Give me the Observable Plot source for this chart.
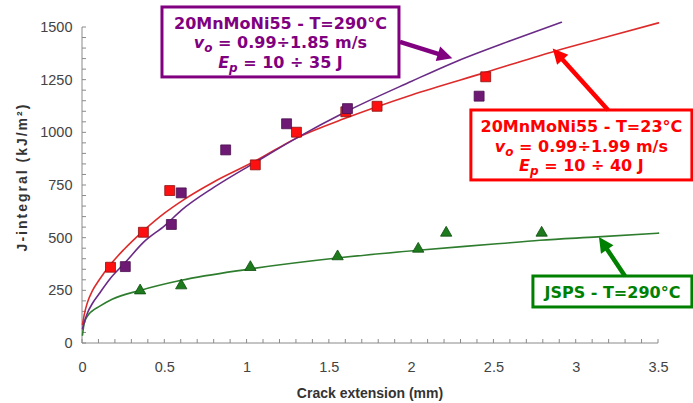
<!DOCTYPE html>
<html><head><meta charset="utf-8">
<script src="https://cdn.jsdelivr.net/npm/d3@7"></script>
<script src="https://cdn.jsdelivr.net/npm/@observablehq/plot@0.6"></script>
<style>body{margin:0;background:#fff}</style>
</head><body><div id="chart"></div>
<script>
// ---- measured data points (crack extension mm, J-integral kJ/m²) ----
const redX = [0.17, 0.37, 0.53, 1.05, 1.30, 1.60, 1.79, 2.45];
const redY = [362, 528, 726, 848, 1003, 1100, 1126, 1266];
const purpleX = [0.26, 0.54, 0.60, 0.87, 1.24, 1.61, 2.41];
const purpleY = [365, 565, 715, 919, 1043, 1115, 1174];
const greenX = [0.35, 0.60, 1.02, 1.55, 2.04, 2.21, 2.79];
const greenY = [251, 275, 362, 413, 449, 525, 525];

// ---- fitted curves ----
const redFitX = [0, 0.01, 0.03, 0.06, 0.1, 0.17, 0.25, 0.37, 0.5, 0.6, 0.8, 1.05, 1.3, 1.6, 2.0, 2.45, 2.85, 3.2, 3.5];
const redFitY = [90, 135, 195, 250, 300, 375, 445, 535, 620, 675, 768, 866, 975, 1070, 1180, 1287, 1383, 1458, 1522];
const purpleFitX = [0, 0.01, 0.03, 0.06, 0.1, 0.17, 0.26, 0.37, 0.5, 0.6, 0.8, 1.05, 1.3, 1.6, 2.0, 2.25, 2.6, 2.91];
const purpleFitY = [70, 100, 145, 190, 235, 310, 385, 480, 560, 632, 742, 860, 975, 1100, 1245, 1332, 1437, 1525];
const greenFitX = [0, 0.01, 0.03, 0.06, 0.1, 0.18, 0.35, 0.6, 1.0, 1.56, 2.04, 2.5, 2.78, 3.13, 3.5];
const greenFitY = [40, 95, 130, 155, 175, 210, 252, 300, 352, 407, 443, 472, 490, 506, 524];

// ---- ticks & labels ----
const xTicks = [0, 0.5, 1, 1.5, 2, 2.5, 3, 3.5];
const yTicks = [0, 250, 500, 750, 1000, 1250, 1500];
const xMinor = d3.range(0, 36).map(i => i / 10);
const yMinor = d3.range(0, 31).map(i => i * 50);
const xTitle = "Crack extension (mm)";
const yTitle = "J-integral (kJ/m²)";

const purpleLines = [[{t:"20MnMoNi55 - T=290°C"}], [{t:"v",i:1},{t:"o",i:1,s:1},{t:" = 0.99÷1.85 m/s"}], [{t:"E",i:1},{t:"p",i:1,s:1},{t:" = 10 ÷ 35 J"}]];
const redLines = [[{t:"20MnMoNi55 - T=23°C"}], [{t:"v",i:1},{t:"o",i:1,s:1},{t:" = 0.99÷1.99 m/s"}], [{t:"E",i:1},{t:"p",i:1,s:1},{t:" = 10 ÷ 40 J"}]];
const greenLines = [[{t:"JSPS - T=290°C"}]];

// annotation anchors in data units: box [x0, x1, yTop, yBottom], arrow [xFrom, yFrom, xTip, yTip]
const notes = [
  {lines: purpleLines, color: "#800080", box: [0.486, 1.926, 1595, 1263], arrow: [1.932, 1429, 2.25, 1352]},
  {lines: redLines, color: "#ff0000", box: [2.363, 3.706, 1106, 774], arrow: [3.196, 1106, 2.86, 1398]},
  {lines: greenLines, color: "#008000", box: [2.740, 3.706, 318, 171], arrow: [3.299, 318, 3.141, 503]}
];

const pts = (xs, ys) => xs.map((x, k) => ({x, y: ys[k]}));
const NS = "http://www.w3.org/2000/svg";

function axesMark(index, scales, values, dims, context) {
  const doc = (context && context.document) || document;
  const X = scales.x, Y = scales.y;
  const g = doc.createElementNS(NS, "g");
  g.setAttribute("stroke", "#8a8a8a");
  g.setAttribute("stroke-width", "1");
  const line = (x1, y1, x2, y2) => {
    const l = doc.createElementNS(NS, "line");
    l.setAttribute("x1", x1); l.setAttribute("y1", y1); l.setAttribute("x2", x2); l.setAttribute("y2", y2);
    g.appendChild(l);
  };
  const x0 = X(0), y0 = Y(0);
  line(x0, Y(1500), x0, y0);
  line(x0, y0, X(3.5), y0);
  for (const v of xMinor) line(X(v), y0, X(v), y0 - 4);
  for (const v of yMinor) line(x0, Y(v), x0 + 4, Y(v));
  return g;
}

function annotationMark(index, scales, values, dims, context) {
  const doc = (context && context.document) || document;
  const X = scales.x, Y = scales.y;
  const g = doc.createElementNS(NS, "g");
  const el = (name, attrs, parent) => {
    const e = doc.createElementNS(NS, name);
    for (const k in attrs) e.setAttribute(k, attrs[k]);
    (parent || g).appendChild(e);
    return e;
  };
  for (const n of notes) {
    const [bx0, bx1, byT, byB] = n.box;
    const left = X(bx0), right = X(bx1), top = Y(byT), bottom = Y(byB);
    el("rect", {x: left, y: top, width: right - left, height: bottom - top, fill: "#fff", stroke: n.color, "stroke-width": 3});
    const cx = (left + right) / 2;
    n.lines.forEach((segs, li) => {
      const t = el("text", {x: cx, y: top + 22 + li * 19.5, "text-anchor": "middle", fill: n.color,
        "font-family": "'DejaVu Sans', Verdana, sans-serif", "font-weight": "bold", "font-size": "16px"});
      let shifted = false;
      for (const s of segs) {
        const ts = el("tspan", {}, t);
        ts.textContent = s.t;
        if (s.i) ts.setAttribute("font-style", "italic");
        if (s.s) { ts.setAttribute("dy", "4"); ts.setAttribute("font-size", "12px"); shifted = true; }
        else if (shifted) { ts.setAttribute("dy", "-4"); shifted = false; }
      }
    });
    const [ax0, ay0, ax1, ay1] = n.arrow;
    const p0 = [X(ax0), Y(ay0)], p1 = [X(ax1), Y(ay1)];
    const dx = p1[0] - p0[0], dy = p1[1] - p0[1];
    const L = Math.hypot(dx, dy), ux = dx / L, uy = dy / L;
    const hl = 15, hw = 7.5;
    const bxp = p1[0] - ux * hl, byp = p1[1] - uy * hl;
    el("line", {x1: p0[0], y1: p0[1], x2: bxp + ux * 1, y2: byp + uy * 1, stroke: n.color, "stroke-width": 4.5});
    el("polygon", {points: `${p1[0]},${p1[1]} ${bxp - uy * hw},${byp + ux * hw} ${bxp + uy * hw},${byp - ux * hw}`, fill: n.color});
  }
  // axis titles
  const xt = el("text", {x: (X(0) + X(3.5)) / 2, y: Y(0) + 55, "text-anchor": "middle", fill: "#333",
    "font-family": "'Liberation Sans', Arial, sans-serif", "font-weight": "bold", "font-size": "14px"});
  xt.textContent = xTitle;
  const ycx = 27, ycy = (Y(0) + Y(1500)) / 2 - 8;
  const yt = el("text", {transform: `translate(${ycx},${ycy}) rotate(-90)`, "text-anchor": "middle", fill: "#333",
    "font-family": "'Liberation Sans', Arial, sans-serif", "font-weight": "bold", "font-size": "14px", "letter-spacing": "2px"});
  yt.textContent = yTitle;
  return g;
}

const chart = Plot.plot({
  width: 693, height: 403,
  marginLeft: 82, marginRight: 35, marginTop: 27, marginBottom: 60,
  style: {fontFamily: "'Liberation Sans', Arial, sans-serif", fontSize: "14.5px", color: "#444", background: "#fff", overflow: "visible"},
  x: {domain: [0, 3.5], ticks: xTicks, tickFormat: d => String(d), tickSize: 0, tickPadding: 18, label: null},
  y: {domain: [0, 1500], ticks: yTicks, tickFormat: d => String(d), tickSize: 0, tickPadding: 10, label: null},
  marks: [
    axesMark,
    Plot.line(pts(greenFitX, greenFitY), {x: "x", y: "y", stroke: "#2e7d2e", strokeWidth: 1.6, curve: "monotone-x"}),
    Plot.line(pts(redFitX, redFitY), {x: "x", y: "y", stroke: "#dd2b2b", strokeWidth: 1.6, curve: "monotone-x"}),
    Plot.line(pts(purpleFitX, purpleFitY), {x: "x", y: "y", stroke: "#6a2a86", strokeWidth: 1.6, curve: "monotone-x"}),
    Plot.dot(pts(greenX, greenY), {x: "x", y: "y", symbol: "triangle", r: 4.2, fill: "#1d7a1d", stroke: "#0e4d0e", strokeWidth: 0.8}),
    Plot.dot(pts(redX, redY), {x: "x", y: "y", symbol: "square", r: 5.6, fill: "#ff1010", stroke: "#8b1010", strokeWidth: 0.8}),
    Plot.dot(pts(purpleX, purpleY), {x: "x", y: "y", symbol: "square", r: 5.6, fill: "#6e1a74", stroke: "#4a0f4e", strokeWidth: 0.8}),
    annotationMark
  ]
});
document.getElementById("chart").appendChild(chart);
</script>
</body></html>
